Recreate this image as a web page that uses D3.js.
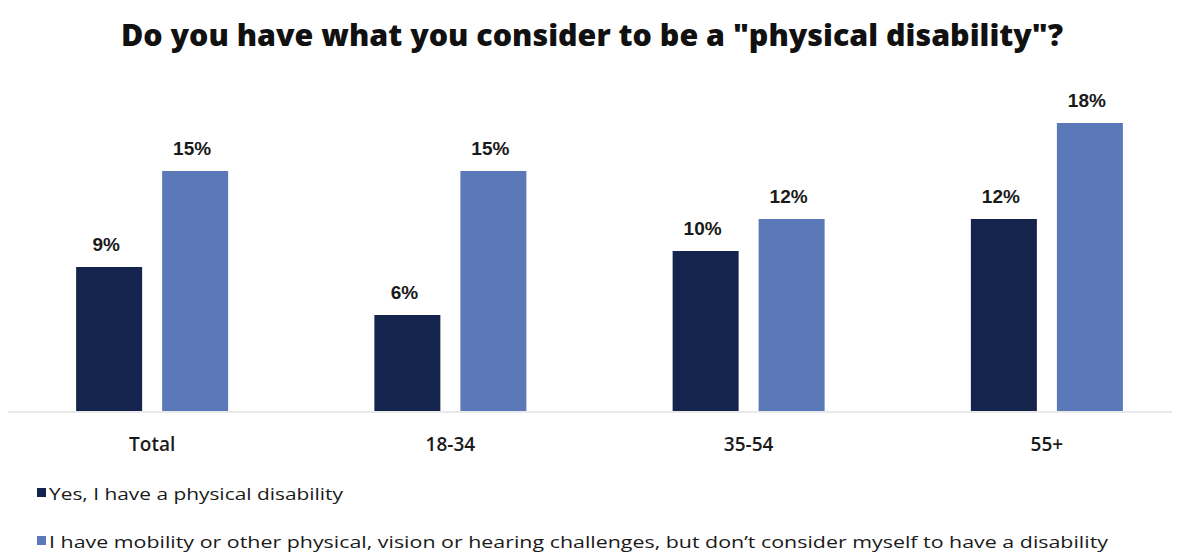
<!DOCTYPE html>
<html>
<head>
<meta charset="utf-8">
<script src="https://cdn.jsdelivr.net/npm/d3@7"></script>
<style>
  html, body { margin: 0; padding: 0; background: #fff; }
  svg { display: block; }
</style>
</head>
<body>
<svg id="chart" width="1177" height="556"></svg>
<script>
// Survey results by age group
const categories = ["Total", "18-34", "35-54", "55+"];
const seriesNames = [
  "Yes, I have a physical disability",
  "I have mobility or other physical, vision or hearing challenges, but don\u2019t consider myself to have a disability"
];
const disabilityValues = [9, 6, 10, 12];
const challengeValues = [15, 15, 12, 18];
const seriesColors = ["#14244d", "#5b79b9"];
const titleText = "Do you have what you consider to be a \"physical disability\"?";

const svg = d3.select("#chart");

const x = d3.scaleBand().domain(categories).range([3, 1196]).paddingInner(0).paddingOuter(0);
const sub = d3.scaleBand().domain([0, 1]).range([-76, 76]).paddingInner(0.2326).paddingOuter(0);
const y = d3.scaleLinear().domain([0, 20]).range([411, 91]);

// Fit a text element to a target width by adjusting its font size
function fitWidth(sel, target) {
  const node = sel.node();
  let fs = parseFloat(sel.attr("font-size"));
  for (let i = 0; i < 4; i++) {
    const w = node.getComputedTextLength();
    if (!w) break;
    fs = fs * target / w;
    sel.attr("font-size", fs);
  }
}

// Title
const title = svg.append("text")
  .attr("x", 592).attr("y", 46)
  .attr("text-anchor", "middle")
  .attr("font-family", "'Open Sans', 'DejaVu Sans', sans-serif")
  .attr("font-weight", 800)
  .attr("font-size", 26)
  .attr("fill", "#111")
  .text(titleText);
fitWidth(title, 942);

// Baseline
svg.append("line")
  .attr("x1", 8).attr("x2", 1172)
  .attr("y1", y(0) + 1).attr("y2", y(0) + 1)
  .attr("stroke", "#e2e2e2").attr("stroke-width", 1.5);

// Bars
const series = [disabilityValues, challengeValues];
const rows = [];
categories.forEach((c, i) => series.forEach((vals, s) => rows.push({ c, s, v: vals[i] })));

const cx = d => x(d.c) + x.bandwidth() / 2 + sub(d.s);

svg.append("g").selectAll("rect").data(rows).join("rect")
  .attr("x", cx)
  .attr("y", d => y(d.v))
  .attr("width", sub.bandwidth())
  .attr("height", d => y(0) - y(d.v))
  .attr("fill", d => seriesColors[d.s]);

// Value labels
svg.append("g").selectAll("text").data(rows).join("text")
  .attr("x", d => cx(d) + sub.bandwidth() / 2 - 3)
  .attr("y", d => y(d.v) - 16)
  .attr("text-anchor", "middle")
  .attr("font-family", "'Liberation Sans', Arial, sans-serif")
  .attr("font-weight", "bold")
  .attr("font-size", 19)
  .attr("fill", "#1a1a1a")
  .text(d => d.v + "%");

// Category axis
const axis = svg.append("g")
  .attr("transform", `translate(0,${y(0)})`)
  .call(d3.axisBottom(x).tickSize(0).tickPadding(27));
axis.select(".domain").remove();
axis.selectAll("text")
  .attr("font-family", "'Open Sans', 'Liberation Sans', sans-serif")
  .attr("font-weight", 600)
  .attr("font-size", 19)
  .attr("fill", "#1a1a1a");

// Legend
const legend = svg.append("g");
const legendY = [500, 548];
const legendW = [296, 1061];
seriesNames.forEach((name, i) => {
  legend.append("rect")
    .attr("x", 37).attr("y", legendY[i] - 12)
    .attr("width", 9).attr("height", 9)
    .attr("fill", seriesColors[i]);
  legend.append("text")
    .attr("x", 49).attr("y", legendY[i])
    .attr("font-family", "'Open Sans', 'Liberation Sans', sans-serif")
    .attr("font-size", 17)
    .attr("textLength", legendW[i] - 2)
    .attr("lengthAdjust", "spacingAndGlyphs")
    .attr("fill", "#1a1a1a")
    .text(name);
});
</script>
</body>
</html>
